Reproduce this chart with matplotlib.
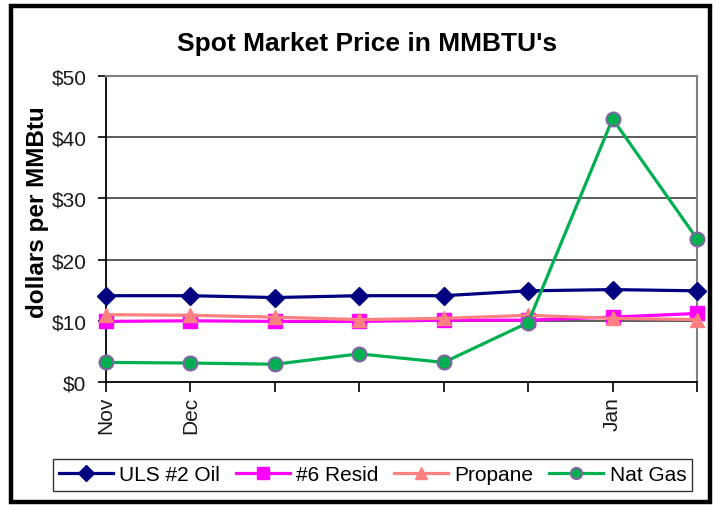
import matplotlib
matplotlib.use("Agg")
import matplotlib.pyplot as plt
from matplotlib.patches import Rectangle

plt.rcParams['font.family'] = ['Liberation Sans', 'DejaVu Sans']

categories = ["Nov", "Dec", "", "", "", "", "Jan", ""]
uls_oil = [14.1, 14.1, 13.8, 14.1, 14.1, 14.9, 15.1, 14.9]
resid6 = [9.9, 10.0, 9.9, 9.9, 10.1, 10.1, 10.6, 11.2]
propane = [11.0, 10.9, 10.6, 10.2, 10.4, 10.9, 10.4, 10.2]
nat_gas = [3.2, 3.1, 2.9, 4.6, 3.2, 9.7, 43.0, 23.4]
yticks = [0, 10, 20, 30, 40, 50]
ytick_labels = ["$0", "$10", "$20", "$30", "$40", "$50"]

W, H = 715, 506
fig = plt.figure(figsize=(W / 100, H / 100), dpi=100)
ax = fig.add_axes([106 / W, 1 - 383 / H, (697 - 106) / W, (383 - 77) / H])

x = list(range(len(categories)))
l1, = ax.plot(x, uls_oil, color='#000080', lw=2.3, marker='D', ms=9,
              mfc='#000080', mec='#000080', label='ULS #2 Oil', zorder=3, clip_on=False)
l2, = ax.plot(x, resid6, color='#FF00FF', lw=2.3, marker='s', ms=10,
              mfc='#FF00FF', mec='#FF00FF', label='#6 Resid', zorder=4, clip_on=False)
l3, = ax.plot(x, propane, color='#FF8080', lw=2.3, marker='^', ms=10,
              mfc='#FF8080', mec='#FF8080', label='Propane', zorder=5, clip_on=False)
l4, = ax.plot(x, nat_gas, color='#00B050', lw=2.3, marker='o', ms=10,
              mfc='#00B050', mec='#8064A2', mew=1.5, label='Nat Gas', zorder=6, clip_on=False)

ax.set_xlim(0, len(categories) - 1)
ax.set_ylim(0, 50)
ax.set_yticks(yticks)
ax.set_yticklabels(ytick_labels, fontsize=15, color='#1a1a1a')
ax.set_xticks(x)
ax.set_xticklabels(categories, rotation=90, fontsize=15, color='#1a1a1a')
ax.tick_params(axis='y', direction='out', length=6, width=1.2, pad=8, color='black')
ax.tick_params(axis='x', direction='out', length=7, width=1.2, pad=3, color='black')

for v in yticks[1:-1]:
    ax.axhline(v, color='#404040', lw=1.2, zorder=1)
ax.spines['left'].set_color('black')
ax.spines['left'].set_linewidth(1.3)
ax.spines['bottom'].set_color('black')
ax.spines['bottom'].set_linewidth(1.3)
ax.spines['top'].set_color('#808080')
ax.spines['top'].set_linewidth(1.5)
ax.spines['right'].set_color('#808080')
ax.spines['right'].set_linewidth(1.5)

ax.set_ylabel('dollars per MMBtu', fontsize=17.5, fontweight='bold')
ax.yaxis.set_label_coords(49 / W, 1 - 212 / H, transform=fig.transFigure)

fig.text(0.5 * (168 + 567) / W, 1 - 44 / H, "Spot Market Price in MMBTU's",
         fontsize=19, fontweight='bold', ha='center', va='center')

leg = fig.legend(handles=[l1, l2, l3, l4], loc='center',
                 bbox_to_anchor=((49 + 696) / 2 / W, 1 - 476 / H),
                 ncol=4, fontsize=15, frameon=True, fancybox=False,
                 edgecolor='black', handlelength=2.6, handletextpad=0.3,
                 columnspacing=0.75, borderpad=0.3, borderaxespad=0)
leg.get_frame().set_linewidth(1.0)
for h in leg.legend_handles:
    h.set_markersize(8)

fig.patches.append(Rectangle((11 / W, 1 - 503 / H), (710 - 11) / W, (503 - 7) / H,
                             transform=fig.transFigure, fill=False,
                             edgecolor='black', lw=3.2, zorder=10))

fig.savefig('out.png', dpi=100)
